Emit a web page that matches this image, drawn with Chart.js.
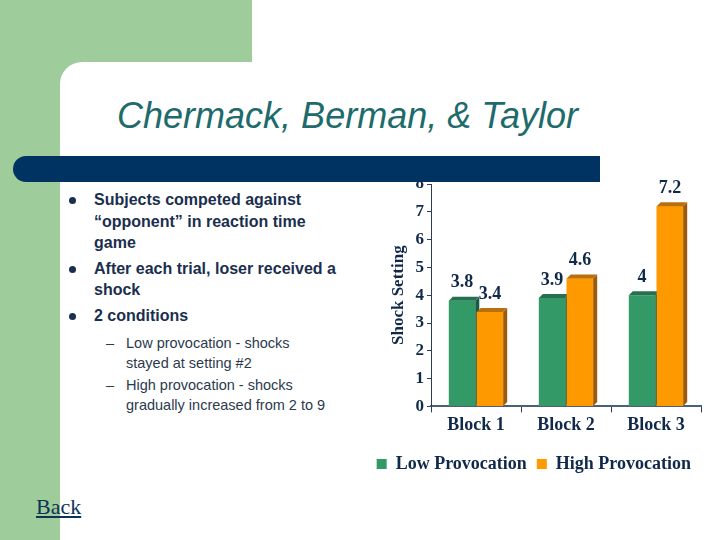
<!DOCTYPE html>
<html>
<head>
<meta charset="utf-8">
<script src="https://cdn.jsdelivr.net/npm/chart.js@4"></script>
<style>
  html, body { margin: 0; padding: 0; }
  body { width: 720px; height: 540px; position: relative; overflow: hidden; background: #fff; font-family: "Liberation Sans", Arial, sans-serif; }
  #green { position: absolute; left: 0; top: 0; width: 252px; height: 540px; background: #9fcc9b; }
  #panel { position: absolute; left: 60px; top: 62px; width: 660px; height: 478px; background: #fff; border-top-left-radius: 22px; }
  #title { position: absolute; left: 60px; top: 95px; width: 575px; text-align: center; font-style: italic; font-size: 36px; color: #1d6b6b; }
  #navy { position: absolute; left: 13px; top: 156px; width: 587px; height: 26px; background: #003362; border-radius: 13px 0 0 13px; z-index: 5; }
  #bullets { position: absolute; left: 68px; top: 189px; width: 300px; color: #1a2f4e; }
  .b { position: relative; padding-left: 26px; font-weight: bold; font-size: 16px; line-height: 21.5px; margin-bottom: 4px; }
  .b:before { content: ""; position: absolute; left: 1px; top: 8px; width: 7px; height: 7px; border-radius: 50%; background: #1a2f4e; }
  .s { position: relative; padding-left: 58px; font-size: 14.5px; line-height: 19.5px; color: #2c3a4e; margin-bottom: 3px; }
  .s:before { content: "\2013"; position: absolute; left: 38px; top: 0; }
  #back { position: absolute; left: 36px; top: 494px; font-family: "Liberation Serif", "Times New Roman", serif; font-size: 22px; color: #0e3356; text-decoration: underline; }
  #wrap { position: absolute; left: 350px; top: 160px; width: 360px; height: 327px; }
</style>
</head>
<body>
<div id="green"></div>
<div id="panel"></div>
<div id="title">Chermack, Berman, &amp; Taylor</div>
<div id="navy"></div>
<div id="bullets">
  <div class="b">Subjects competed against<br>“opponent” in reaction time<br>game</div>
  <div class="b">After each trial, loser received a<br>shock</div>
  <div class="b" style="margin-bottom:8px">2 conditions</div>
  <div class="s">Low provocation - shocks<br>stayed at setting #2</div>
  <div class="s">High provocation - shocks<br>gradually increased from 2 to 9</div>
</div>
<div id="back">Back</div>
<div id="wrap"><canvas id="shock-chart"></canvas></div>
<script>
// Shock setting by block
const blocks = ['Block 1', 'Block 2', 'Block 3'];
const lowProvocation = [3.8, 3.9, 4];
const highProvocation = [3.4, 4.6, 7.2];

const serif = '"Liberation Serif", "Times New Roman", serif';
const navy = '#10294a';
const depth = 4;

function drawEdges(ctx, ds, bar) {
    const p = bar.getProps(['x', 'y', 'base', 'width'], true);
    const l = p.x - p.width / 2, r = p.x + p.width / 2;
    ctx.fillStyle = ds.sideColor;
    ctx.beginPath();
    ctx.moveTo(r, p.y); ctx.lineTo(r + depth, p.y - depth); ctx.lineTo(r + depth, p.base - depth); ctx.lineTo(r, p.base);
    ctx.fill();
    ctx.fillStyle = ds.topColor;
    ctx.beginPath();
    ctx.moveTo(l, p.y); ctx.lineTo(l + depth, p.y - depth); ctx.lineTo(r + depth, p.y - depth); ctx.lineTo(r, p.y);
    ctx.fill();
}

// fake 3D look: green edges first, then orange bars redrawn on top, then their edges
const bar3d = {
    id: 'bar3d',
    afterDatasetsDraw(chart) {
        const ctx = chart.ctx;
        ctx.save();
        chart.data.datasets.forEach((ds, i) => {
            chart.getDatasetMeta(i).data.forEach(bar => {
                if (i > 0) bar.draw(ctx);
                drawEdges(ctx, ds, bar);
            });
        });
        ctx.font = 'bold 18px ' + serif;
        ctx.fillStyle = navy;
        ctx.textAlign = 'center';
        ctx.textBaseline = 'bottom';
        chart.data.datasets.forEach((ds, i) => {
            chart.getDatasetMeta(i).data.forEach((bar, j) => {
                ctx.fillText(String(ds.data[j]), bar.x, bar.y - 9);
            });
        });
        ctx.restore();
    }
};

const shockCtx = document.getElementById('shock-chart').getContext('2d');
const shockChart = new Chart(shockCtx, {
    type: 'bar',
    data: {
        labels: blocks,
        datasets: [{
            label: 'Low Provocation',
            data: lowProvocation,
            backgroundColor: '#339966',
            sideColor: '#1c5c44',
            topColor: '#24704f'
        }, {
            label: 'High Provocation',
            data: highProvocation,
            backgroundColor: '#ff9900',
            sideColor: '#9a5a10',
            topColor: '#b8700f'
        }]
    },
    options: {
        responsive: true,
        maintainAspectRatio: false,
        animation: false,
        layout: { padding: { top: 24, right: 9, left: 0, bottom: 4 } },
        datasets: { bar: { categoryPercentage: 0.62, barPercentage: 0.95 } },
        plugins: {
            tooltip: { enabled: false },
            legend: {
                position: 'bottom',
                align: 'end',
                labels: {
                    boxWidth: 10, boxHeight: 10, padding: 10,
                    color: navy,
                    font: { family: serif, size: 18, weight: 'bold' }
                }
            }
        },
        scales: {
            x: {
                grid: { display: true, drawOnChartArea: false, tickLength: 6, color: '#2b3d57' },
                border: { color: '#4b5f7a', width: 2 },
                ticks: { color: navy, font: { family: serif, size: 18, weight: 'bold' }, padding: 2 },
                afterFit(scale) { scale.height += 7; }
            },
            y: {
                min: 0, max: 8,
                ticks: { stepSize: 1, autoSkip: false, color: navy, font: { family: serif, size: 17, weight: 'bold' }, padding: 3 },
                grid: { display: true, drawOnChartArea: false, tickLength: 4, color: '#2b3d57' },
                border: { color: '#2b3d57', width: 1 },
                title: { display: true, text: 'Shock Setting', color: navy, font: { family: serif, size: 17, weight: 'bold' }, padding: { top: 38, bottom: 4 } },
                afterFit(scale) { scale.width = 81; }
            }
        }
    },
    plugins: [bar3d]
});
</script>
</body>
</html>
